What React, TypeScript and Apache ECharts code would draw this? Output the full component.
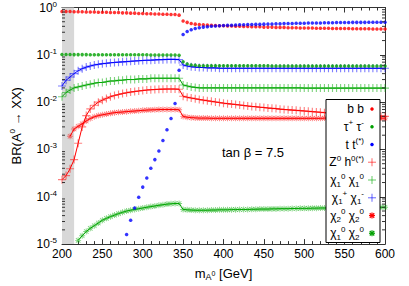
import React, { useEffect, useRef } from "react";
import * as echarts from "echarts";

// Higgs mass grid [GeV]
const masses = [
  200, 205, 210, 215, 220, 225, 230, 235, 240, 245,
  250, 255, 260, 265, 270, 275, 280, 285, 290, 295,
  300, 305, 310, 315, 320, 325, 330, 335, 340, 345,
  350, 355, 360, 365, 370, 375, 380, 385, 390, 395,
  400, 405, 410, 415, 420, 425, 430, 435, 440, 445,
  450, 455, 460, 465, 470, 475, 480, 485, 490, 495,
  500, 505, 510, 515, 520, 525, 530, 535, 540, 545,
  550, 555, 560, 565, 570, 575, 580, 585, 590, 595,
  600,
];

const brBB = [
  0.82, 0.82, 0.82, 0.81, 0.81, 0.81, 0.8, 0.8, 0.8, 0.79,
  0.79, 0.79, 0.78, 0.78, 0.78, 0.77, 0.77, 0.76, 0.76, 0.75,
  0.75, 0.74, 0.74, 0.73, 0.73, 0.72, 0.72, 0.71, 0.71, 0.69,
  0.52, 0.485, 0.46, 0.445, 0.435, 0.43, 0.425, 0.42, 0.415, 0.41,
  0.41, 0.405, 0.405, 0.4, 0.4, 0.395, 0.395, 0.39, 0.39, 0.39,
  0.385, 0.385, 0.385, 0.38, 0.38, 0.38, 0.375, 0.375, 0.375, 0.37,
  0.37, 0.37, 0.37, 0.365, 0.365, 0.365, 0.365, 0.36, 0.36, 0.36,
  0.36, 0.36, 0.355, 0.355, 0.355, 0.355, 0.355, 0.35, 0.35, 0.35,
  0.35,
];

const brTauTau = [
  0.102, 0.102, 0.102, 0.101, 0.101, 0.101, 0.101, 0.1, 0.1, 0.1,
  0.1, 0.1, 0.1, 0.1, 0.1, 0.1, 0.1, 0.1, 0.1, 0.1,
  0.1, 0.1, 0.099, 0.099, 0.099, 0.099, 0.099, 0.099, 0.099, 0.098,
  0.071, 0.064, 0.061, 0.06, 0.059, 0.059, 0.059, 0.059, 0.059, 0.059,
  0.059, 0.059, 0.059, 0.059, 0.059, 0.059, 0.059, 0.059, 0.059, 0.059,
  0.059, 0.059, 0.058, 0.058, 0.058, 0.058, 0.058, 0.058, 0.058, 0.058,
  0.058, 0.058, 0.058, 0.058, 0.058, 0.058, 0.058, 0.058, 0.058, 0.058,
  0.058, 0.058, 0.058, 0.058, 0.058, 0.058, 0.058, 0.058, 0.058, 0.058,
  0.058,
];

const brTT = [
  null, null, null, null, null, null, null, null, null, null,
  null, null, null, null, null, null, 1.6e-5, 3.2e-5, 5.8e-5, 9.8e-5,
  1.6e-4, 2.5e-4, 4.0e-4, 6.1e-4, 9.3e-4, 1.55e-3, 2.6e-3, 4.5e-3, 9.4e-3, 0.047,
  0.27, 0.31, 0.34, 0.36, 0.375, 0.385, 0.39, 0.4, 0.405, 0.41,
  0.415, 0.42, 0.42, 0.425, 0.43, 0.43, 0.435, 0.435, 0.44, 0.44,
  0.445, 0.45, 0.45, 0.455, 0.455, 0.46, 0.46, 0.46, 0.465, 0.465,
  0.465, 0.47, 0.47, 0.47, 0.47, 0.475, 0.475, 0.475, 0.48, 0.48,
  0.48, 0.48, 0.485, 0.485, 0.485, 0.485, 0.49, 0.49, 0.49, 0.49,
  0.49,
];

const brZh = [
  2.3e-4, 2.8e-4, 3.9e-4, 6.1e-4, 1.35e-3, 3.0e-3, 5.2e-3, 7.2e-3, 8.6e-3, 1.0e-2,
  1.1e-2, 1.2e-2, 1.3e-2, 1.38e-2, 1.45e-2, 1.52e-2, 1.58e-2, 1.63e-2, 1.68e-2, 1.72e-2,
  1.76e-2, 1.8e-2, 1.83e-2, 1.85e-2, 1.87e-2, 1.88e-2, 1.89e-2, 1.89e-2, 1.89e-2, 1.87e-2,
  1.33e-2, 1.27e-2, 1.22e-2, 1.18e-2, 1.14e-2, 1.1e-2, 1.07e-2, 1.04e-2, 1.01e-2, 9.8e-3,
  9.5e-3, 9.3e-3, 9.1e-3, 8.9e-3, 8.7e-3, 8.5e-3, 8.3e-3, 8.1e-3, 8.0e-3, 7.8e-3,
  7.7e-3, 7.5e-3, 7.4e-3, 7.3e-3, 7.1e-3, 7.0e-3, 6.9e-3, 6.8e-3, 6.7e-3, 6.6e-3,
  6.5e-3, 6.4e-3, 6.3e-3, 6.2e-3, 6.1e-3, 6.0e-3, 5.9e-3, 5.85e-3, 5.8e-3, 5.7e-3,
  5.6e-3, 5.55e-3, 5.5e-3, 5.4e-3, 5.35e-3, 5.3e-3, 5.2e-3, 5.15e-3, 5.1e-3, 5.05e-3,
  5.0e-3,
];

const brN1N1 = [
  0.013, 0.016, 0.018, 0.02, 0.021, 0.022, 0.023, 0.024, 0.025, 0.026,
  0.026, 0.027, 0.028, 0.028, 0.029, 0.029, 0.03, 0.03, 0.03, 0.031,
  0.031, 0.031, 0.032, 0.032, 0.032, 0.032, 0.032, 0.032, 0.032, 0.032,
  0.023, 0.022, 0.021, 0.0205, 0.02, 0.02, 0.02, 0.02, 0.02, 0.02,
  0.02, 0.02, 0.02, 0.02, 0.02, 0.02, 0.02, 0.02, 0.02, 0.02,
  0.02, 0.02, 0.02, 0.02, 0.02, 0.02, 0.02, 0.02, 0.02, 0.02,
  0.0198, 0.0198, 0.0198, 0.0198, 0.0198, 0.0198, 0.0198, 0.0198, 0.0198, 0.0198,
  0.0198, 0.0198, 0.0198, 0.0198, 0.0198, 0.0198, 0.0198, 0.0198, 0.0198, 0.0198,
  0.0198,
];

const brC1C1 = [
  0.022, 0.029, 0.034, 0.04, 0.046, 0.051, 0.055, 0.058, 0.061, 0.063,
  0.065, 0.066, 0.068, 0.069, 0.07, 0.071, 0.072, 0.073, 0.074, 0.075,
  0.076, 0.077, 0.077, 0.078, 0.079, 0.079, 0.08, 0.08, 0.08, 0.079,
  0.061, 0.058, 0.056, 0.055, 0.054, 0.054, 0.053, 0.053, 0.053, 0.052,
  0.052, 0.052, 0.052, 0.052, 0.052, 0.052, 0.052, 0.052, 0.052, 0.052,
  0.052, 0.052, 0.052, 0.052, 0.052, 0.052, 0.052, 0.052, 0.052, 0.052,
  0.052, 0.052, 0.052, 0.052, 0.052, 0.052, 0.052, 0.052, 0.052, 0.052,
  0.052, 0.052, 0.052, 0.052, 0.052, 0.052, 0.052, 0.052, 0.052, 0.052,
  0.052,
];

const brN2N2 = [
  null, null, 1.9e-3, 2.7e-3, 3.1e-3, 3.5e-3, 4.0e-3, 4.5e-3, 4.9e-3, 5.2e-3,
  5.4e-3, 5.6e-3, 5.8e-3, 6.0e-3, 6.1e-3, 6.2e-3, 6.3e-3, 6.4e-3, 6.5e-3, 6.6e-3,
  6.7e-3, 6.8e-3, 6.85e-3, 6.9e-3, 6.95e-3, 7.0e-3, 7.0e-3, 7.0e-3, 7.0e-3, 6.9e-3,
  5.0e-3, 4.8e-3, 4.7e-3, 4.65e-3, 4.6e-3, 4.6e-3, 4.6e-3, 4.55e-3, 4.55e-3, 4.55e-3,
  4.55e-3, 4.55e-3, 4.55e-3, 4.55e-3, 4.55e-3, 4.55e-3, 4.55e-3, 4.55e-3, 4.55e-3, 4.55e-3,
  4.55e-3, 4.55e-3, 4.55e-3, 4.55e-3, 4.55e-3, 4.55e-3, 4.55e-3, 4.55e-3, 4.55e-3, 4.55e-3,
  4.55e-3, 4.55e-3, 4.55e-3, 4.55e-3, 4.55e-3, 4.6e-3, 4.6e-3, 4.6e-3, 4.6e-3, 4.6e-3,
  4.6e-3, 4.6e-3, 4.6e-3, 4.6e-3, 4.6e-3, 4.6e-3, 4.6e-3, 4.6e-3, 4.6e-3, 4.6e-3,
  4.6e-3,
];

const brN1N2 = [
  null, null, null, null, 1.2e-5, 1.5e-5, 1.85e-5, 2.15e-5, 2.45e-5, 2.8e-5,
  3.2e-5, 3.5e-5, 3.8e-5, 4.1e-5, 4.4e-5, 4.7e-5, 5.0e-5, 5.2e-5, 5.4e-5, 5.6e-5,
  5.8e-5, 6.0e-5, 6.2e-5, 6.4e-5, 6.6e-5, 6.8e-5, 7.0e-5, 7.1e-5, 7.2e-5, 7.2e-5,
  5.4e-5, 5.3e-5, 5.25e-5, 5.2e-5, 5.2e-5, 5.2e-5, 5.2e-5, 5.25e-5, 5.25e-5, 5.3e-5,
  5.3e-5, 5.3e-5, 5.35e-5, 5.35e-5, 5.4e-5, 5.4e-5, 5.4e-5, 5.45e-5, 5.45e-5, 5.5e-5,
  5.5e-5, 5.5e-5, 5.55e-5, 5.55e-5, 5.6e-5, 5.6e-5, 5.6e-5, 5.65e-5, 5.65e-5, 5.7e-5,
  5.7e-5, 5.7e-5, 5.75e-5, 5.75e-5, 5.8e-5, 5.8e-5, 5.8e-5, 5.85e-5, 5.85e-5, 5.9e-5,
  5.9e-5, 5.9e-5, 5.9e-5, 5.95e-5, 5.95e-5, 5.95e-5, 6.0e-5, 6.0e-5, 6.0e-5, 6.0e-5,
  6.0e-5,
];

// Excluded region (grey band)
const excludedBand = [200, 215];

const legendLabels = [
  "b b",
  "τ{sup|+} τ{sup|-}",
  "t t{sup|(*)}",
  "Z{sup|0} h{sup|0(*)}",
  "χ{sub|1}{sup|0} χ{sub|1}{sup|0}",
  "χ{sub|1}{sup|+} χ{sub|1}{sup|-}",
  "χ{sub|2}{sup|0} χ{sub|2}{sup|0}",
  "χ{sub|1}{sup|0} χ{sub|2}{sup|0}",
];

const annotation = "tan β = 7.5";

const FONT = "'Liberation Sans', Arial, Helvetica, sans-serif";
const RED = "#ff0000";
const GREEN = "#00a000";
const BLUE = "#0000ff";
const RED_L = "rgba(255,0,0,0.5)";
const GREEN_L = "rgba(0,170,0,0.5)";
const BLUE_L = "rgba(0,0,255,0.5)";
const AXIS = "#333";

const PLUS =
  "path://M-1,-0.14L-0.14,-0.14L-0.14,-1L0.14,-1L0.14,-0.14L1,-0.14L1,0.14L0.14,0.14L0.14,1L-0.14,1L-0.14,0.14L-1,0.14Z";
const STAR =
  "path://M-1,-0.15L1,-0.15L1,0.15L-1,0.15Z M-0.15,-1L0.15,-1L0.15,1L-0.15,1Z M-0.85,-0.65L-0.65,-0.85L0.85,0.65L0.65,0.85Z M0.65,-0.85L0.85,-0.65L-0.65,0.85L-0.85,0.65Z";

function pts(vals: (number | null)[]) {
  return masses
    .map((m, i) => [m, vals[i]])
    .filter((p) => p[1] !== null && p[1] !== undefined);
}

export default function App() {
  const ref = useRef<HTMLDivElement>(null);

  useEffect(() => {
    if (!ref.current) return;
    const chart = echarts.init(ref.current, undefined, { renderer: "svg" });

    const supRich = {
      b: { fontSize: 12, fontFamily: FONT, color: "#000", lineHeight: 15 },
      s: { fontSize: 8, fontFamily: FONT, color: "#000", verticalAlign: "top", lineHeight: 9 },
    };

    const xBase = {
      type: "value",
      min: 200,
      max: 600,
      interval: 50,
      axisLine: { show: true, onZero: false, lineStyle: { color: AXIS, width: 1 } },
      axisTick: { show: true, inside: true, length: 5, lineStyle: { color: AXIS } },
      minorTick: { show: true, splitNumber: 5, length: 3, lineStyle: { color: AXIS } },
      splitLine: { show: false },
      minorSplitLine: { show: false },
    };
    const yBase = {
      type: "log",
      logBase: 10,
      min: 1e-5,
      max: 1,
      axisLine: { show: true, onZero: false, lineStyle: { color: AXIS, width: 1 } },
      axisTick: { show: true, inside: true, length: 5, lineStyle: { color: AXIS } },
      splitLine: { show: false },
    };

    const lineSeries = (name: string, vals: (number | null)[], symbol: string, size: number, lineColor: string, symColor: string) => ({
      name,
      type: "line",
      data: pts(vals),
      symbol,
      symbolSize: size,
      showSymbol: true,
      showAllSymbol: true,
      lineStyle: { color: lineColor, width: 1 },
      itemStyle: { color: symColor },
      z: 3,
    });

    const option: any = {
      animation: false,
      backgroundColor: "#fff",
      grid: { left: 57, right: 24, top: 7, bottom: 40, containLabel: false },
      xAxis: [
        {
          ...xBase,
          position: "bottom",
          axisLabel: { show: true, fontSize: 12, fontFamily: FONT, color: "#000", margin: 4 },
          name: "m{sub|A}{ss|0} [GeV]",
          nameLocation: "middle",
          nameGap: 20,
          nameTextStyle: {
            fontSize: 13,
            fontFamily: FONT,
            color: "#000",
            lineHeight: 16,
            rich: {
              sub: { fontSize: 9, fontFamily: FONT, color: "#000", verticalAlign: "bottom", lineHeight: 9 },
              ss: { fontSize: 7, fontFamily: FONT, color: "#000", lineHeight: 9 },
            },
          },
        },
        {
          ...xBase,
          position: "top",
          axisLabel: { show: false },
        },
      ],
      yAxis: [
        {
          ...yBase,
          position: "left",
          minorTick: { show: false },
          axisLabel: {
            show: true,
            margin: 5,
            formatter: (v: number) => `{b|10}{s|${Math.round(Math.log10(v))}}`,
            rich: supRich,
          },
          name: "BR(A{s|0} → XX)",
          nameLocation: "middle",
          nameRotate: 90,
          nameGap: 38,
          nameTextStyle: {
            fontSize: 13,
            fontFamily: FONT,
            color: "#000",
            lineHeight: 16,
            rich: {
              s: { fontSize: 8, fontFamily: FONT, color: "#000", verticalAlign: "top", lineHeight: 9 },
            },
          },
        },
        {
          ...yBase,
          position: "right",
          minorTick: { show: false },
          axisLabel: { show: false },
        },
      ],
      series: [
        {
          name: "bb",
          type: "scatter",
          data: pts(brBB),
          symbol: "circle",
          symbolSize: 3.5,
          itemStyle: { color: RED },
          z: 4,
          markArea: {
            silent: true,
            itemStyle: { color: "#d8d8d8", opacity: 1 },
            data: [[{ xAxis: excludedBand[0] }, { xAxis: excludedBand[1] }]],
          },
        },
        lineSeries("n1n2", brN1N2, STAR, 6, GREEN, GREEN_L),
        lineSeries("n2n2", brN2N2, STAR, 6, RED, RED_L),
        lineSeries("zh", brZh, PLUS, 8, RED, RED_L),
        lineSeries("n1n1", brN1N1, PLUS, 8, GREEN, GREEN_L),
        lineSeries("c1c1", brC1C1, PLUS, 8, BLUE, BLUE_L),
        {
          name: "tautau",
          type: "scatter",
          data: pts(brTauTau),
          symbol: "circle",
          symbolSize: 3.5,
          itemStyle: { color: GREEN },
          z: 4,
        },
        {
          name: "tt",
          type: "scatter",
          data: pts(brTT),
          symbol: "circle",
          symbolSize: 3.5,
          itemStyle: { color: BLUE },
          z: 4,
        },
      ],
    };

    chart.setOption(option);

    // Extra graphics: log minor ticks, annotation, legend box
    const L = chart.convertToPixel({ xAxisIndex: 0 }, 200) as number;
    const R = chart.convertToPixel({ xAxisIndex: 0 }, 600) as number;
    const els: any[] = [];
    for (let e = -5; e < 0; e++) {
      for (let k = 2; k <= 9; k++) {
        const py = chart.convertToPixel({ yAxisIndex: 0 }, k * Math.pow(10, e)) as number;
        els.push({ type: "line", silent: true, z: 50, shape: { x1: L, y1: py, x2: L + 3, y2: py }, style: { stroke: AXIS, lineWidth: 1 } });
        els.push({ type: "line", silent: true, z: 50, shape: { x1: R - 3, y1: py, x2: R, y2: py }, style: { stroke: AXIS, lineWidth: 1 } });
      }
    }

    els.push({
      type: "text",
      z: 60,
      x: 253,
      y: 152,
      style: {
        text: annotation,
        fontSize: 13,
        fontFamily: FONT,
        fill: "#000",
        align: "center",
        textAlign: "center",
        verticalAlign: "middle",
        textVerticalAlign: "middle",
      },
    });

    const boxX = 326, boxY = 99.5, boxW = 54, boxH = 143;
    els.push({
      type: "rect",
      z: 70,
      shape: { x: boxX, y: boxY, width: boxW, height: boxH },
      style: { fill: "#fff", stroke: "#000", lineWidth: 1 },
    });
    const symKinds = ["dot", "dot", "dot", "plus", "plus", "plus", "star", "star"];
    const symColors = [RED, GREEN, BLUE, RED_L, GREEN_L, BLUE_L, RED, GREEN];
    const legendRich = {
      sup: { fontSize: 8, fontFamily: FONT, fill: "#000", verticalAlign: "top", lineHeight: 9 },
      sub: { fontSize: 8, fontFamily: FONT, fill: "#000", verticalAlign: "bottom", lineHeight: 9 },
    };
    legendLabels.forEach((lab, i) => {
      const cy = 109 + i * 17.75;
      const cx = 372;
      els.push({
        type: "text",
        z: 71,
        x: 364,
        y: cy,
        style: {
          text: lab,
          fontSize: 12,
          fontFamily: FONT,
          fill: "#000",
          lineHeight: 16,
          align: "right",
          textAlign: "right",
          verticalAlign: "middle",
          textVerticalAlign: "middle",
          rich: legendRich,
        },
      });
      const c = symColors[i];
      if (symKinds[i] === "dot") {
        els.push({ type: "circle", z: 71, shape: { cx, cy, r: 1.75 }, style: { fill: c } });
      } else {
        const h = symKinds[i] === "plus" ? 4 : 3;
        els.push({ type: "line", z: 71, shape: { x1: cx - h, y1: cy, x2: cx + h, y2: cy }, style: { stroke: c, lineWidth: 1.2 } });
        els.push({ type: "line", z: 71, shape: { x1: cx, y1: cy - h, x2: cx, y2: cy + h }, style: { stroke: c, lineWidth: 1.2 } });
        if (symKinds[i] === "star") {
          const d = h * 0.75;
          els.push({ type: "line", z: 71, shape: { x1: cx - d, y1: cy - d, x2: cx + d, y2: cy + d }, style: { stroke: c, lineWidth: 1.2 } });
          els.push({ type: "line", z: 71, shape: { x1: cx - d, y1: cy + d, x2: cx + d, y2: cy - d }, style: { stroke: c, lineWidth: 1.2 } });
        }
      }
    });

    chart.setOption({ graphic: { elements: els } });

    return () => {
      chart.dispose();
    };
  }, []);

  return (
    <div
      ref={ref}
      style={{ position: "fixed", left: 0, top: 0, width: 409, height: 286, background: "#fff" }}
    />
  );
}
